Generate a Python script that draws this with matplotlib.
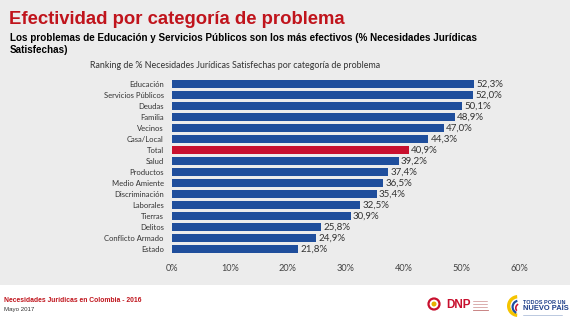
import matplotlib.pyplot as plt
from matplotlib.patches import Rectangle, Circle, Wedge

categorias = ["Educación", "Servicios Públicos", "Deudas", "Familia", "Vecinos",
              "Casa/Local", "Total", "Salud", "Productos", "Medio Amiente",
              "Discriminación", "Laborales", "Tierras", "Delitos",
              "Conflicto Armado", "Estado"]
valores = [52.3, 52.0, 50.1, 48.9, 47.0, 44.3, 40.9, 39.2, 37.4, 36.5,
           35.4, 32.5, 30.9, 25.8, 24.9, 21.8]
ticks = [0, 10, 20, 30, 40, 50, 60]

AZUL = "#1f4e9c"
ROJO = "#c8102e"
GRIS_FONDO = "#ececec"

fig = plt.figure(figsize=(5.7, 3.2), dpi=100)
fig.patch.set_facecolor("white")
# fondo gris de la diapositiva
fig.patches.append(Rectangle((0, 1 - 285 / 320), 1, 285 / 320, transform=fig.transFigure,
                             facecolor=GRIS_FONDO, edgecolor="none", zorder=-10))

fig.text(9 / 570, 1 - 20 / 320, "Efectividad por categoría de problema",
         family="Liberation Sans", weight="bold", fontsize=13.3, color="#c0141c", va="center")
fig.text(10 / 570, 1 - 38 / 320,
         "Los problemas de Educación y Servicios Públicos son los más efectivos (% Necesidades Jurídicas",
         family="Liberation Sans", weight="bold", fontsize=7.1, color="black", va="center")
fig.text(10 / 570, 1 - 50 / 320, "Satisfechas)",
         family="Liberation Sans", weight="bold", fontsize=7.1, color="black", va="center")
fig.text(235 / 570, 1 - 65 / 320,
         "Ranking de % Necesidades Jurídicas Satisfechas por categoría de problema",
         family="Lato", fontsize=6.4, color="#333333", ha="center", va="center")

ax = fig.add_axes([172 / 570, 1 - 254.5 / 320, 347 / 570, 176 / 320])
ax.set_facecolor("none")
y = list(range(len(categorias)))
colores = [ROJO if c == "Total" else AZUL for c in categorias]
ax.barh(y, valores, height=0.74, color=colores)
for yi, v in zip(y, valores):
    ax.text(v + 0.4, yi, f"{v:.1f}%".replace(".", ","), va="center", ha="left",
            family="Lato", fontsize=7, color="#333333")
ax.set_yticks(y)
ax.set_yticklabels(categorias, family="Lato", fontsize=5.5, color="#333333")
ax.set_xticks(ticks)
ax.set_xticklabels([f"{t}%" for t in ticks], family="Lato", fontsize=6.6, color="#444444")
ax.set_xlim(0, 60)
ax.set_ylim(len(categorias) - 0.5, -0.5)
ax.tick_params(length=0, axis="y", pad=6)
ax.tick_params(length=0, axis="x", pad=7)
for s in ax.spines.values():
    s.set_visible(False)

# pie de página
fig.text(4 / 570, 1 - 300 / 320, "Necesidades Jurídicas en Colombia - 2016",
         family="Liberation Sans", weight="bold", fontsize=4.85, color="#c0141c", va="center")
fig.text(4 / 570, 1 - 309 / 320, "Mayo 2017",
         family="Liberation Sans", fontsize=4.4, color="#333333", va="center")

# logos simplificados
logo = fig.add_axes([0, 0, 1, 1], facecolor="none")
logo.set_xlim(0, 570)
logo.set_ylim(320, 0)
logo.axis("off")
logo.add_patch(Circle((434, 304), 5.5, facecolor="white", edgecolor=ROJO, lw=1.6))
logo.add_patch(Circle((434, 304), 2.5, facecolor="#e5b000", edgecolor="none"))
logo.text(446, 304.5, "DNP", family="Liberation Sans", weight="bold", fontsize=8.5,
          color=ROJO, va="center")
for yy in [300.5, 303.5, 306.5]:
    logo.plot([473, 487], [yy, yy], color="#c07070", lw=0.4)
logo.plot([473, 488], [309.5, 309.5], color="#c07070", lw=0.6)
logo.add_patch(Wedge((518, 306), 11, 95, 265, width=3.4, facecolor="#f5c400", edgecolor="none"))
logo.add_patch(Wedge((519, 307), 7.5, 115, 255, width=2.2, facecolor="#1e4fa0", edgecolor="none"))
logo.add_patch(Wedge((520, 308), 5, 140, 245, width=1.6, facecolor=ROJO, edgecolor="none"))
logo.text(523, 302, "TODOS POR UN", family="Liberation Sans", weight="bold", fontsize=4.0,
          color="#1e3f8a", va="center")
logo.text(523, 309, "NUEVO PAÍS", family="Liberation Sans", weight="bold", fontsize=5.4,
          color="#1e3f8a", va="center")
logo.plot([523, 562], [314.5, 314.5], color="#8aa0c8", lw=0.4)

fig.savefig("out.png", dpi=100, facecolor=fig.get_facecolor())
